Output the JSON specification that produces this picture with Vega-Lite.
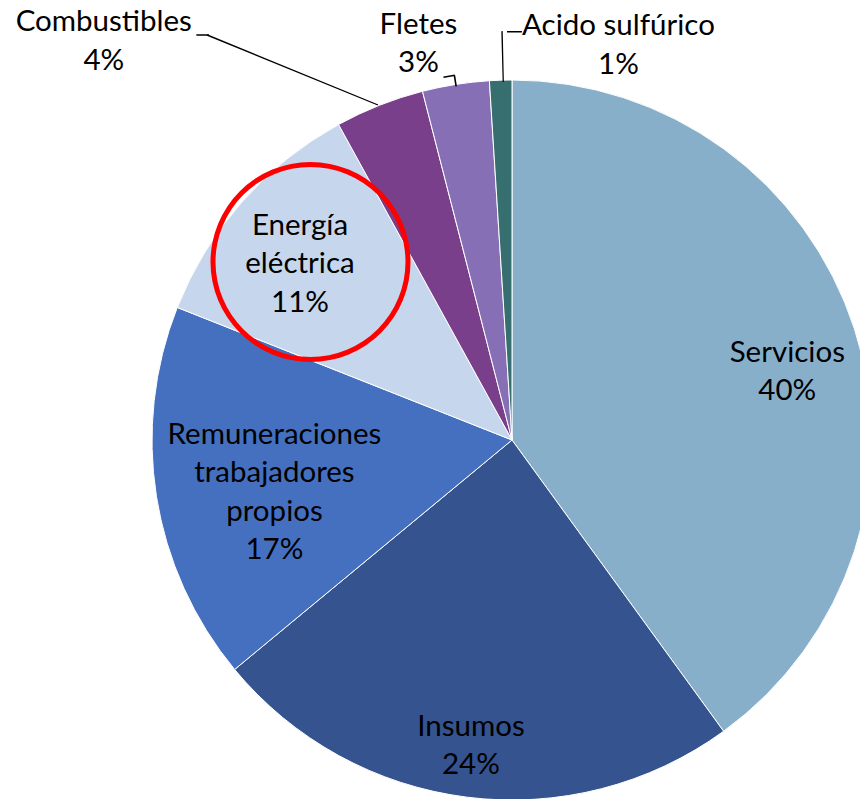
{
  "$schema": "https://vega.github.io/schema/vega-lite/v6.json",
  "width": 696,
  "height": 718,
  "autosize": {"type": "none"},
  "padding": {"left": 164, "top": 81, "right": 0, "bottom": 0},
  "background": "white",
  "config": {"view": {"stroke": null}, "text": {"font": "Lato", "fontSize": 29.5, "lineHeight": 38.5, "lineBreak": "\n", "color": "black", "baseline": "middle", "align": "center"}},
  "data": {"values": [
    {"cat": "Servicios", "v": 40, "label": "Servicios\n40%"},
    {"cat": "Insumos", "v": 24, "label": "Insumos\n24%"},
    {"cat": "Remuneraciones trabajadores propios", "v": 17, "label": "Remuneraciones\ntrabajadores\npropios\n17%"},
    {"cat": "Energía eléctrica", "v": 11, "label": "Energía\neléctrica\n11%"},
    {"cat": "Combustibles", "v": 4, "label": "Combustibles\n4%"},
    {"cat": "Fletes", "v": 3, "label": "Fletes\n3%"},
    {"cat": "Acido sulfúrico", "v": 1, "label": "Acido sulfúrico\n1%"}
  ]},
  "encoding": {
    "theta": {"field": "v", "type": "quantitative", "stack": true, "scale": {"domain": [0, 100]}},
    "order": {"field": "v", "type": "quantitative", "sort": "descending"},
    "detail": {"field": "cat", "type": "nominal"}
  },
  "layer": [
    {
      "mark": {"type": "arc", "outerRadius": 360, "stroke": "white", "strokeWidth": 1},
      "encoding": {
        "color": {"field": "cat", "type": "nominal", "legend": null,
          "scale": {
            "domain": ["Servicios", "Insumos", "Remuneraciones trabajadores propios", "Energía eléctrica", "Combustibles", "Fletes", "Acido sulfúrico"],
            "range": ["#88AFCA", "#35538F", "#4570C0", "#C5D6ED", "#793F8A", "#876FB6", "#376E70"]
          }}
      }
    },
    {
      "transform": [
        {"stack": "v", "groupby": [], "sort": [{"field": "v", "order": "descending"}], "as": ["v0", "v1"]},
        {"filter": "datum.cat === 'Fletes'"}
      ],
      "mark": {"type": "arc", "outerRadius": 369, "innerRadius": 358, "thetaOffset": 0.0925, "theta2Offset": -0.0916, "color": "black"},
      "encoding": {"theta": {"field": "v0", "type": "quantitative", "stack": null}, "theta2": {"field": "v1"}}
    },
    {
      "transform": [
        {"stack": "v", "groupby": [], "sort": [{"field": "v", "order": "descending"}], "as": ["v0", "v1"]},
        {"filter": "datum.cat === 'Fletes'"}
      ],
      "mark": {"type": "arc", "outerRadius": 370, "innerRadius": 368.5, "thetaOffset": 0.0646, "theta2Offset": -0.0925, "color": "black"},
      "encoding": {"theta": {"field": "v0", "type": "quantitative", "stack": null}, "theta2": {"field": "v1"}}
    },
    {
      "transform": [
        {"stack": "v", "groupby": [], "sort": [{"field": "v", "order": "descending"}], "as": ["v0", "v1"]},
        {"filter": "datum.cat === 'Acido sulfúrico'"}
      ],
      "mark": {"type": "arc", "outerRadius": 409, "innerRadius": 358, "thetaOffset": 0.0367, "theta2Offset": -0.0227, "color": "black"},
      "encoding": {"theta": {"field": "v0", "type": "quantitative", "stack": null}, "theta2": {"field": "v1"}}
    },
    {
      "transform": [
        {"stack": "v", "groupby": [], "sort": [{"field": "v", "order": "descending"}], "as": ["v0", "v1"]},
        {"filter": "datum.cat === 'Acido sulfúrico'"}
      ],
      "mark": {"type": "arc", "outerRadius": 409, "innerRadius": 407.5, "thetaOffset": 0.0506, "theta2Offset": 0.0244, "color": "black"},
      "encoding": {"theta": {"field": "v0", "type": "quantitative", "stack": null}, "theta2": {"field": "v1"}}
    },
    {
      "transform": [{"filter": "datum.cat === 'Energía eléctrica'"}],
      "mark": {"type": "arc", "outerRadius": 100, "innerRadius": 95, "color": "#FF0000", "xOffset": -201.5, "yOffset": -178},
      "encoding": {"theta": {"value": 0}, "theta2": {"value": 6.2832}}
    },
    {
      "transform": [{"filter": "datum.cat === 'Combustibles'"}],
      "mark": {"type": "arc", "outerRadius": 184, "innerRadius": 0, "color": "black", "stroke": "black", "strokeWidth": 1.3, "xOffset": -134, "yOffset": -335},
      "encoding": {"theta": {"value": 5.1005}, "theta2": {"value": 5.1015}}
    },
    {
      "transform": [{"filter": "datum.cat === 'Combustibles'"}],
      "mark": {"type": "arc", "outerRadius": 12, "innerRadius": 0, "color": "black", "stroke": "black", "strokeWidth": 1.3, "xOffset": -303, "yOffset": -405},
      "encoding": {"theta": {"value": 4.712}, "theta2": {"value": 4.713}}
    },
    {
      "mark": {"type": "text", "radius": 280, "dx": 9, "dy": -0.5},
      "encoding": {"text": {"condition": {"test": "datum.cat === 'Servicios'", "field": "label", "type": "nominal"}, "value": ""}}
    },
    {
      "mark": {"type": "text", "radius": 280, "dx": -6, "dy": 9},
      "encoding": {"text": {"condition": {"test": "datum.cat === 'Insumos'", "field": "label", "type": "nominal"}, "value": ""}}
    },
    {
      "mark": {"type": "text", "radius": 280, "dx": 39, "dy": -49},
      "encoding": {"text": {"condition": {"test": "datum.cat === 'Remuneraciones trabajadores propios'", "field": "label", "type": "nominal"}, "value": ""}}
    },
    {
      "mark": {"type": "text", "radius": 280, "dx": -2, "dy": -29},
      "encoding": {"text": {"condition": {"test": "datum.cat === 'Energía eléctrica'", "field": "label", "type": "nominal"}, "value": ""}}
    },
    {
      "mark": {"type": "text", "radius": 400, "dx": -261, "dy": -46},
      "encoding": {"text": {"condition": {"test": "datum.cat === 'Combustibles'", "field": "label", "type": "nominal"}, "value": ""}}
    },
    {
      "mark": {"type": "text", "radius": 400, "dx": -31, "dy": -20},
      "encoding": {"text": {"condition": {"test": "datum.cat === 'Fletes'", "field": "label", "type": "nominal"}, "value": ""}}
    },
    {
      "mark": {"type": "text", "radius": 400, "dx": 119, "dy": -14},
      "encoding": {"text": {"condition": {"test": "datum.cat === 'Acido sulfúrico'", "field": "label", "type": "nominal"}, "value": ""}}
    }
  ]
}
